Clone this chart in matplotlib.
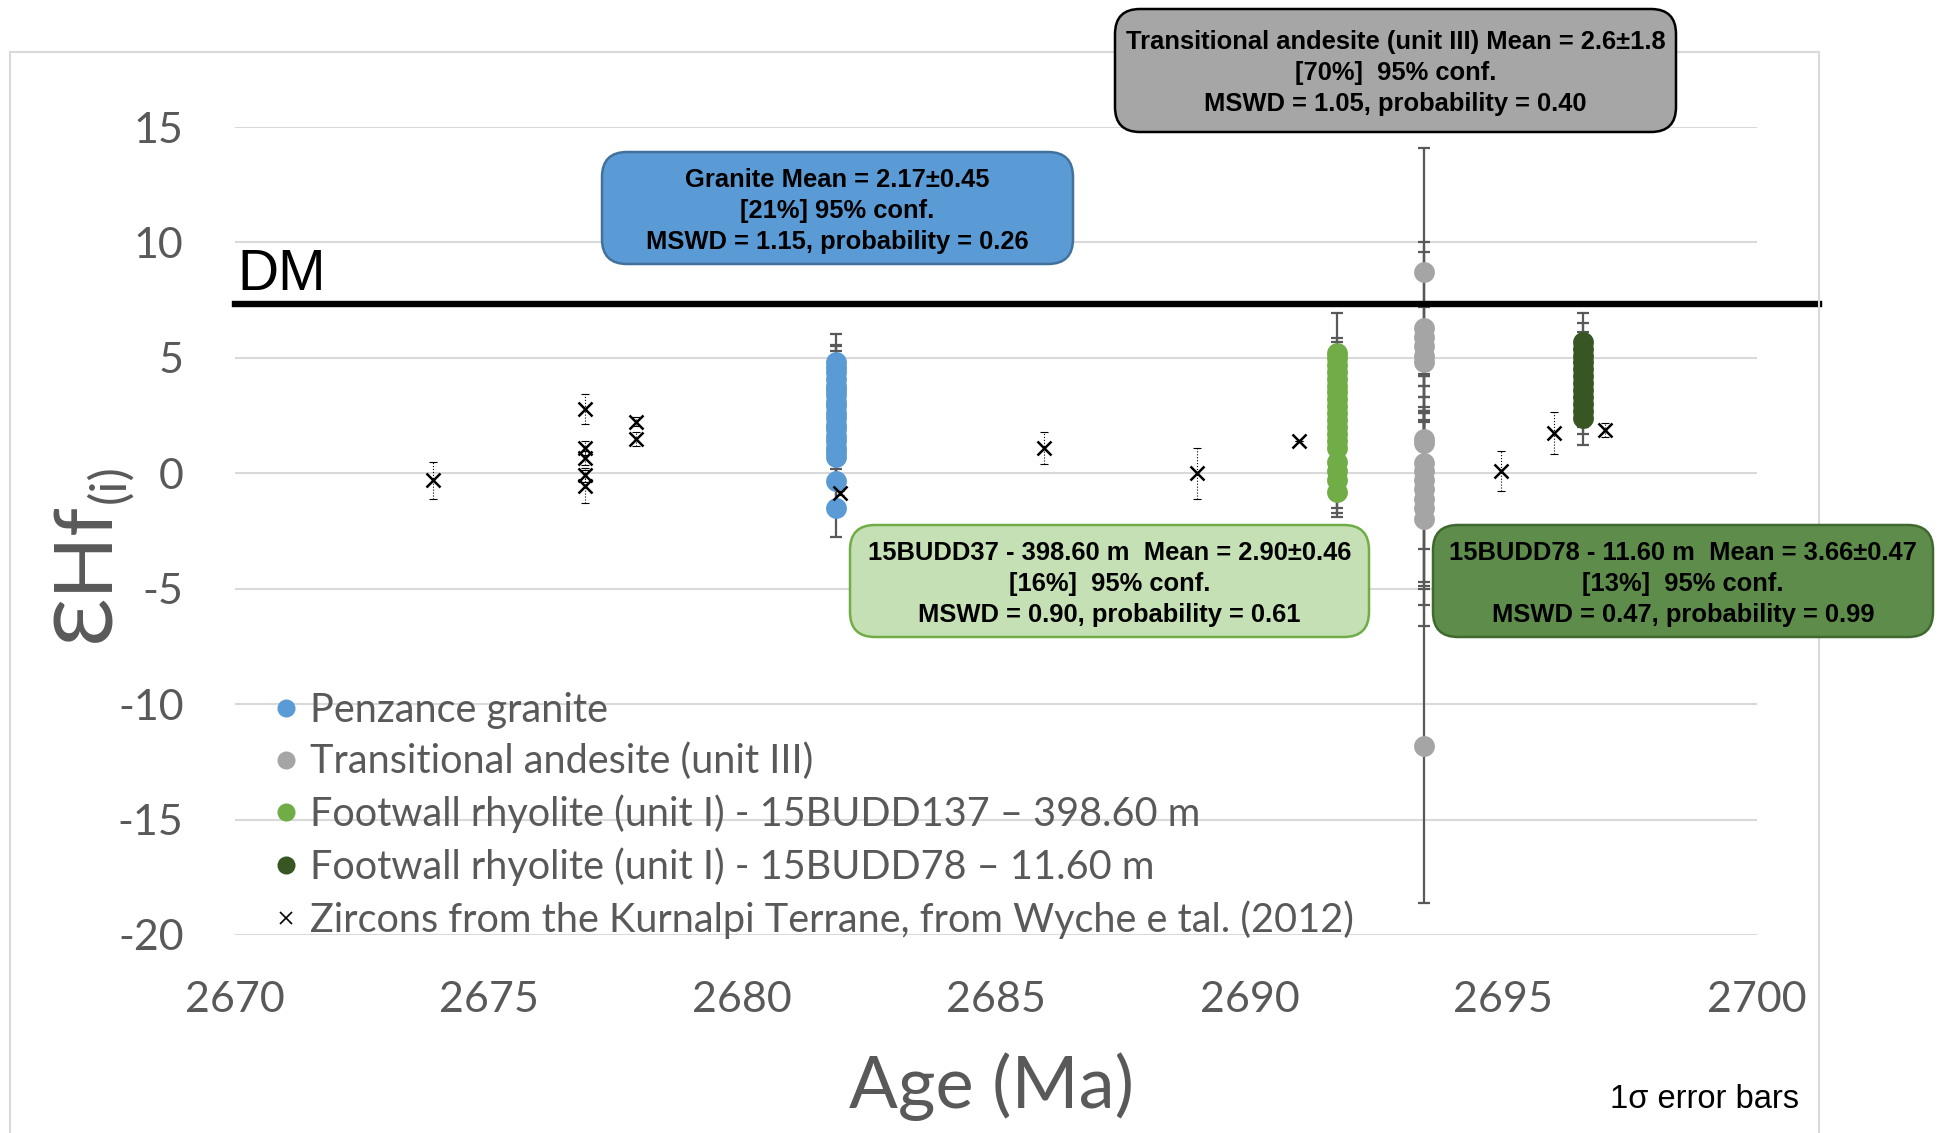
import matplotlib
matplotlib.use('Agg')
import matplotlib.pyplot as plt
from matplotlib.lines import Line2D
from matplotlib.patches import FancyBboxPatch, Rectangle

plt.rcParams['font.family'] = ['Lato', 'DejaVu Sans']
plt.rcParams['axes.unicode_minus'] = False

# Penzance granite
gran_age = 2681.85
gran_eps = [4.8, 4.6, 4.4, 4.1, 3.8, 3.6, 3.4, 3.1, 2.9, 2.6, 2.4, 2.1, 1.9, 1.6, 1.4, 1.1, 0.9, 0.7, -0.35, -1.5]
gran_err = [1.25, 0.95, 1.1, 1.2, 1.2, 1.2, 1.2, 1.2, 1.2, 1.2, 1.2, 1.2, 1.2, 1.2, 1.2, 1.2, 1.2, 1.2, 1.2, 1.25]

# Transitional andesite (unit III)
and_age = 2693.44
and_eps = [8.7, 6.3, 5.9, 5.5, 5.1, 4.8, 1.5, 1.3, 0.45, 0.1, -0.3, -0.7, -1.1, -1.5, -2.0, -11.8]
and_err = [5.4, 3.7, 3.7, 1.7, 0.9, 0.5, 2.7, 2.5, 2.4, 2.2, 3.0, 4.0, 3.8, 4.2, 4.6, 6.8]

# Footwall rhyolite 15BUDD137
fw1_age = 2691.73
fw1_eps = [5.2, 5.0, 4.7, 4.4, 4.1, 3.8, 3.5, 3.2, 2.9, 2.6, 2.3, 2.0, 1.7, 1.4, 1.1, 0.5, 0.1, -0.3, -0.8]
fw1_err = [1.75, 0.87, 1.0, 1.0, 1.0, 1.0, 1.0, 1.0, 1.0, 1.0, 1.0, 1.0, 1.0, 1.0, 1.0, 1.0, 1.6, 1.4, 1.1]

# Footwall rhyolite 15BUDD78
fw2_age = 2696.56
fw2_eps = [5.7, 5.4, 5.1, 4.8, 4.5, 4.2, 3.9, 3.6, 3.3, 3.0, 2.7, 2.4]
fw2_err = [1.25, 1.1, 1.0, 1.0, 1.0, 1.0, 1.0, 1.0, 1.0, 1.0, 1.0, 1.17]

# Kurnalpi Terrane zircons (Wyche et al. 2012)
kur_age = [2673.9, 2676.9, 2676.9, 2676.9, 2676.9, 2676.9, 2677.9, 2677.9, 2681.93,
           2685.94, 2688.97, 2690.97, 2694.96, 2696.0, 2697.0]
kur_eps = [-0.3, 2.78, 1.09, 0.66, -0.07, -0.57, 2.24, 1.49, -0.85,
           1.09, 0.0, 1.38, 0.1, 1.74, 1.88]
kur_err = [0.8, 0.65, 0.3, 0.3, 0.3, 0.7, 0.2, 0.3, 0.1,
           0.7, 1.1, 0.0, 0.85, 0.9, 0.3]

dm_eps = 7.35

c_gran = '#5B9BD5'
c_and = '#A5A5A5'
c_fw1 = '#70AD47'
c_fw2 = '#375623'
txt_grey = '#595959'

fig = plt.figure(figsize=(19.37, 11.33), dpi=100)
ax = fig.add_axes([0.1213, 0.1748, 0.7858, 0.7131])

# chart frame
fig.patches.append(Rectangle((0.005, -0.01), 0.934, 0.964, transform=fig.transFigure,
                             fill=False, edgecolor='#D9D9D9', lw=1.5))

for age, eps, err, col in [(gran_age, gran_eps, gran_err, c_gran),
                           (fw1_age, fw1_eps, fw1_err, c_fw1),
                           (and_age, and_eps, and_err, c_and),
                           (fw2_age, fw2_eps, fw2_err, c_fw2)]:
    ax.errorbar([age] * len(eps), eps, yerr=err, fmt='none', ecolor='#595959',
                elinewidth=1.6, capsize=4.5, capthick=1.6, zorder=2)
    ax.plot([age] * len(eps), eps, 'o', ms=15, color=col, mew=0, zorder=3)

eb = ax.errorbar(kur_age, kur_eps, yerr=kur_err, fmt='none', ecolor='black',
                 elinewidth=0.8, capsize=3, capthick=0.8, zorder=4)
eb[2][0].set_linestyle(':')
ax.plot(kur_age, kur_eps, 'x', ms=10, mew=1.8, color='black', zorder=5)

# depleted mantle line
ax.axhline(dm_eps, xmin=0, xmax=1.041, color='black', lw=4.6, clip_on=False, zorder=6)
ax.text(2670.05, 7.94, 'DM', family='Liberation Sans', fontsize=41, va='baseline', ha='left')

ax.set_xlim(2670, 2700)
ax.set_ylim(-20, 15)
ax.set_xticks(range(2670, 2701, 5))
ax.set_yticks(range(-20, 16, 5))
ax.grid(axis='y', color='#D9D9D9', lw=1.5)
ax.set_axisbelow(True)
for s in ax.spines.values():
    s.set_visible(False)
ax.tick_params(axis='both', length=0, labelsize=31, colors=txt_grey)
ax.tick_params(axis='y', pad=37)
ax.tick_params(axis='x', pad=33)

fig.text(0.512, 0.022, 'Age (Ma)', fontsize=52, color=txt_grey, ha='center', va='baseline')
fig.text(0.0563, 0.4334, 'ƐHf', fontsize=59, color=txt_grey, rotation=90,
         rotation_mode='anchor', ha='left', va='baseline')
fig.text(0.0640, 0.5560, '(i)', fontsize=36, color=txt_grey, rotation=90,
         rotation_mode='anchor', ha='left', va='baseline')
fig.text(0.929, 0.030, '1σ error bars', family='Liberation Sans', fontsize=23.5,
         ha='right', va='center')

# legend
handles = [Line2D([], [], ls='none', marker='o', ms=13, mew=0, color=c_gran),
           Line2D([], [], ls='none', marker='o', ms=13, mew=0, color=c_and),
           Line2D([], [], ls='none', marker='o', ms=13, mew=0, color=c_fw1),
           Line2D([], [], ls='none', marker='o', ms=13, mew=0, color=c_fw2),
           Line2D([], [], ls='none', marker='x', ms=8, mew=1.2, color='black')]
labels = ['Penzance granite',
          'Transitional andesite (unit III)',
          'Footwall rhyolite (unit I) - 15BUDD137 \u2013 398.60 m',
          'Footwall rhyolite (unit I) - 15BUDD78 \u2013 11.60 m',
          'Zircons from the Kurnalpi Terrane, from Wyche e tal. (2012)']
fig.legend(handles, labels, loc='upper left', bbox_to_anchor=(0.1405, 0.3895),
           frameon=False, fontsize=28.5, labelcolor=txt_grey, handlelength=0.7,
           handletextpad=0.25, labelspacing=0.355, borderpad=0, borderaxespad=0)

# statistics boxes: (x0, y0, x1, y1) in pixels from top-left, fill, edge, text colour, text
W, H = 1937.0, 1133.0
boxes = [
    ((1115, 9, 1676, 132), '#A6A6A6', 'black', 'black',
     'Transitional andesite (unit III) Mean = 2.6\u00b11.8\n[70%]  95% conf.\nMSWD = 1.05, probability = 0.40'),
    ((602, 152, 1073, 264), c_gran, '#41719C', 'black',
     'Granite Mean = 2.17\u00b10.45\n[21%] 95% conf.\nMSWD = 1.15, probability = 0.26'),
    ((850, 525, 1369, 637), '#C5E0B4', '#70AD47', 'black',
     '15BUDD37 - 398.60 m  Mean = 2.90\u00b10.46\n[16%]  95% conf.\nMSWD = 0.90, probability = 0.61'),
    ((1433, 525, 1933, 637), '#5E8C4A', '#41692F', 'black',
     '15BUDD78 - 11.60 m  Mean = 3.66\u00b10.47\n[13%]  95% conf.\nMSWD = 0.47, probability = 0.99'),
]
for (x0, y0, x1, y1), fc, ec, tc, txt in boxes:
    fx, fy = x0 / W, 1 - y1 / H
    fw, fh = (x1 - x0) / W, (y1 - y0) / H
    p = FancyBboxPatch((fx, fy), fw, fh, boxstyle='round,pad=0,rounding_size=%f' % (25 / W),
                       mutation_aspect=W / H, transform=fig.transFigure,
                       facecolor=fc, edgecolor=ec, lw=1.8, zorder=10)
    fig.patches.append(p)
    fig.text(fx + fw / 2, fy + fh / 2 - 0.0025, txt, family='Liberation Sans', weight='bold',
             fontsize=18.4, color=tc, ha='center', va='center', multialignment='center',
             linespacing=1.36, zorder=11)

fig.savefig('out.png', dpi=100)
